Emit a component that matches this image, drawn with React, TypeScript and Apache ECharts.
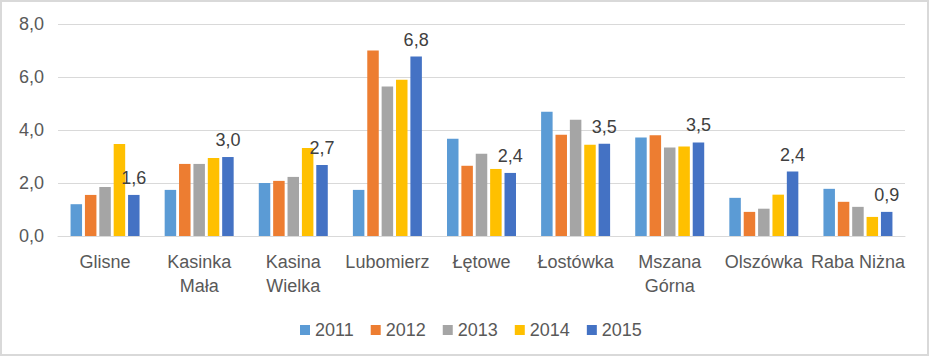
import React, { useEffect, useRef } from "react";
import * as echarts from "echarts";

const categories = [
  "Glisne",
  "Kasinka\nMała",
  "Kasina\nWielka",
  "Lubomierz",
  "Łętowe",
  "Łostówka",
  "Mszana\nGórna",
  "Olszówka",
  "Raba Niżna",
];
const seriesNames = ["2011", "2012", "2013", "2014", "2015"];
const values2011 = [1.2, 1.74, 2.0, 1.74, 3.67, 4.69, 3.72, 1.44, 1.78];
const values2012 = [1.55, 2.72, 2.08, 7.0, 2.65, 3.82, 3.8, 0.91, 1.29];
const values2013 = [1.85, 2.72, 2.23, 5.64, 3.1, 4.39, 3.34, 1.03, 1.1];
const values2014 = [3.47, 2.94, 3.32, 5.9, 2.53, 3.44, 3.38, 1.56, 0.72];
const values2015 = [1.55, 2.98, 2.68, 6.77, 2.38, 3.48, 3.53, 2.43, 0.91];
const colors = ["#5B9BD5", "#ED7D31", "#A5A5A5", "#FFC000", "#4472C4"];
const yTicks = { min: 0, max: 8, interval: 2 };

const fmt = (v: number) => v.toFixed(1).replace(".", ",");

export default function App() {
  const ref = useRef<HTMLDivElement>(null);
  useEffect(() => {
    if (!ref.current) return;
    const chart = echarts.init(ref.current, null, { renderer: "svg" });
    const allValues = [values2011, values2012, values2013, values2014, values2015];
    const font = "'Liberation Sans', Arial, sans-serif";
    chart.setOption({
      animation: false,
      textStyle: { fontFamily: font },
      grid: { left: 58, right: 24, top: 24, bottom: 120, containLabel: false },
      legend: {
        top: 316,
        left: 295,
        itemWidth: 10,
        itemHeight: 10,
        itemGap: 17,
        icon: "rect",
        textStyle: { fontSize: 18, color: "#595959", fontFamily: font },
        data: seriesNames,
      },
      xAxis: {
        type: "category",
        data: categories,
        axisLine: { lineStyle: { color: "#D9D9D9", width: 1 } },
        axisTick: { show: false },
        axisLabel: {
          interval: 0,
          fontSize: 18,
          color: "#595959",
          lineHeight: 24,
          margin: 14,
          fontFamily: font,
        },
      },
      yAxis: {
        type: "value",
        min: yTicks.min,
        max: yTicks.max,
        interval: yTicks.interval,
        axisLine: { show: false },
        axisTick: { show: false },
        splitLine: { lineStyle: { color: "#D9D9D9", width: 1 } },
        axisLabel: {
          fontSize: 18,
          color: "#595959",
          margin: 14,
          fontFamily: font,
          formatter: (v: number) => fmt(v),
        },
      },
      series: seriesNames.map((name, i) => ({
        name,
        type: "bar",
        data: allValues[i],
        barWidth: 11.5,
        barGap: "25%",
        itemStyle: { color: colors[i] },
        label:
          i === 4
            ? {
                show: true,
                position: "top",
                distance: 8,
                fontSize: 18,
                color: "#404040",
                fontFamily: font,
                formatter: (p: any) => fmt(p.value),
              }
            : { show: false },
      })),
    });
    return () => chart.dispose();
  }, []);
  return (
    <div
      style={{
        position: "fixed",
        left: 0,
        top: 0,
        width: 929,
        height: 356,
        boxSizing: "border-box",
        border: "2px solid #D9D9D9",
        background: "#fff",
      }}
    >
      <div ref={ref} style={{ position: "absolute", left: -2, top: -2, width: 929, height: 356 }} />
    </div>
  );
}
